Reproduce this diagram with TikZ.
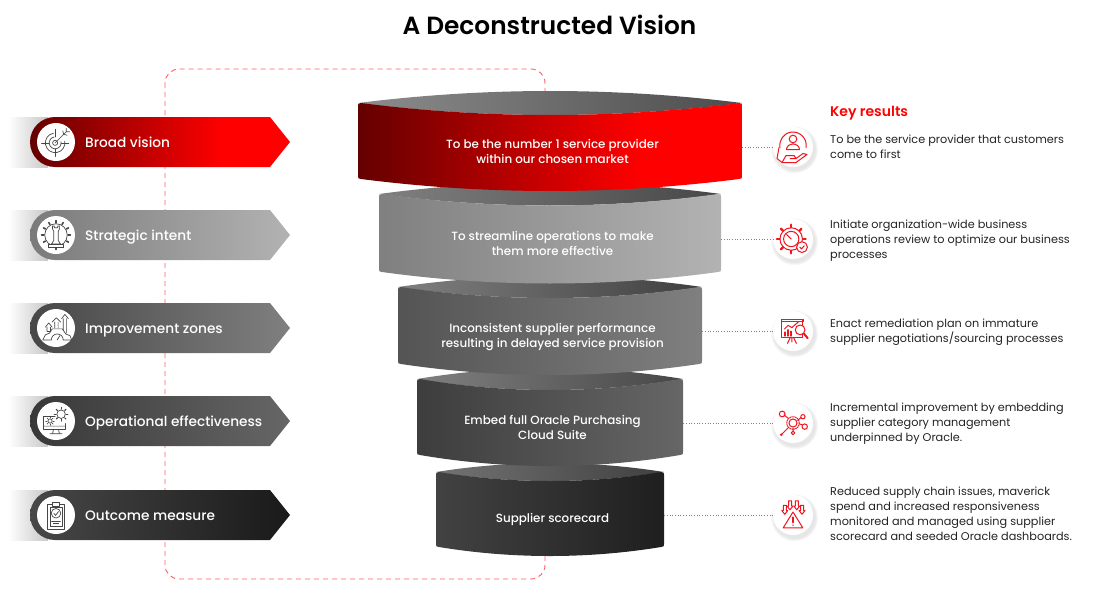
\documentclass[tikz,border=0pt]{standalone}
\usepackage{fontspec}
\usepackage{tikz}
\usetikzlibrary{shadows,fadings,calc}
\setmainfont{Poppins}
\newfontfamily\medfont{Poppins Medium}
\newfontfamily\semifont{Poppins SemiBold}
\definecolor{FrameRed}{RGB}{255,90,100}
\definecolor{DeepRed}{RGB}{100,0,0}
\definecolor{IconGrey}{RGB}{70,70,70}
\definecolor{IconRed}{RGB}{240,20,30}
\definecolor{BodyInk}{RGB}{35,35,35}
\pgfdeclarehorizontalshading{redsweep}{100bp}{color(0bp)=(DeepRed); color(25bp)=(DeepRed); color(62bp)=(red); color(100bp)=(red)}
\tikzset{
  lefticon/.style={draw=IconGrey,line width=0.7pt,line cap=round,line join=round},
  righticon/.style={draw=IconRed,line width=1pt,line cap=round,line join=round},
  bandtext/.style={text=white,align=center,inner sep=0pt,font=\medfont\fontsize{11.9}{15}\selectfont},
  pilltext/.style={text=white,anchor=base west,inner sep=0pt,font=\medfont\fontsize{13.7}{15}\selectfont},
  restext/.style={text=BodyInk,anchor=west,align=left,inner sep=0pt,font=\fontsize{11.25}{15}\selectfont},
  holecirc/.style={circle,fill=white,minimum size=38pt,inner sep=0pt},
  rescirc/.style={circle,fill=white,minimum size=40pt,inner sep=0pt,circular drop shadow={shadow xshift=1pt,shadow yshift=-2pt,shadow scale=1.2,opacity=0.2}},
  resline/.style={draw=gray,line width=0.7pt,dotted},
  tabA/.style={shading=redsweep},
  tabB/.style={left color=black!52,right color=black!30},
  tabC/.style={left color=black!72,right color=black!50},
  tabD/.style={left color=black!78,right color=black!60},
  tabE/.style={left color=black!72,right color=black!90},
  ringA/.style={yshift=1pt},
  ringB/.style={},
  ringC/.style={yshift=-2pt},
  ringD/.style={},
  ringE/.style={yshift=-2pt},
  pics/targetmark/.style={code={
    \draw[lefticon] (-1,2) circle (3) (-1,2) ++(-10:7) arc (-10:260:7) (-1,2) ++(-10:11.5) arc (-10:260:11.5);
    \draw[lefticon] (-1,2) -- (12,-11) (8,-12) -- (9,-8) -- (13,-7) (12,-11) -- (12,-15) (12,-11) -- (16,-11);
    \draw[lefticon] (-1,-14) -- (-1,-5) (-1,9) -- (-1,18) (-17,2) -- (-8,2) (6,2) -- (15,2);}},
  pics/rookmark/.style={code={
    \draw[lefticon] (0,0) circle (12.5);
    \foreach \ang in {0,30,...,330} {\draw[lefticon,line width=1.6pt] (\ang:13.5) -- (\ang:16);}
    \draw[lefticon,fill=white] (-4,-7) -- (-4,-10) -- (-2,-10) -- (-2,-8) -- (2,-8) -- (2,-10) -- (4,-10) -- (4,-7) -- (2.5,-4) -- (2.5,6) -- (5,10) -- (-5,10) -- (-2.5,6) -- (-2.5,-4) -- cycle;
    \draw[lefticon,fill=white] (-8,10) rectangle (8,14);}},
  pics/climbmark/.style={code={
    \draw[lefticon] (-14,-1) -- (-10,-6) -- (-6,-1) (-8,-1) -- (-8,4) -- (-12,4) -- (-12,-1);
    \draw[lefticon] (-6,-7) -- (-1,-12) -- (4,-7) (-3,-7) -- (-3,0) (1,-7) -- (1,0);
    \draw[lefticon] (5,-11) -- (9,-16) -- (13,-11) (7,-11) -- (7,3) (11,-11) -- (11,6);
    \draw[lefticon] (-17,14) -- (-14,8) -- (-9,6) -- (-6,1) -- (6,1) -- (10,7) -- (15,9) -- (17,14) -- (7,14);
    \draw[lefticon] (-7,14) arc (180:360:7) (-17,14) -- (-7,14);
    \draw[lefticon] (0,14) -- (3,9);}},
  pics/deskmark/.style={code={
    \draw[lefticon] (-1,-7) -- (-15,-7) -- (-15,9) -- (11,9) -- (11,2);
    \draw[lefticon] (-15,5) -- (11,5) (-3,9) -- (-4,14) (3,9) -- (4,14) (-7,14) -- (7,14);
    \draw[lefticon] (-7,-1) circle (2.5);
    \foreach \ang in {0,45,...,315} {\draw[lefticon] ($(-7,-1)+(\ang:3.5)$) -- ($(-7,-1)+(\ang:5)$);}
    \draw[lefticon] (6,-9) circle (5);
    \foreach \ang in {0,45,...,315} {\draw[lefticon,line width=1.2pt] ($(6,-9)+(\ang:6)$) -- ($(6,-9)+(\ang:8)$);}}},
  pics/boardmark/.style={code={
    \draw[lefticon] (-10,-12) rectangle (10,16) (-7,-9) rectangle (7,13);
    \draw[lefticon,fill=white] (-4,-15) -- (4,-15) -- (4,-10) -- (-4,-10) -- cycle;
    \draw[lefticon] (0,-2) circle (5.5) (-2.5,-2) -- (-0.5,0.5) -- (3,-4);
    \draw[lefticon] (-5,7) -- (5,7) (-3,10) -- (3,10);}},
  pics/carehand/.style={code={
    \draw[righticon] (-13,2) arc (170:370:13.2);
    \draw[righticon] (0,-6.5) circle (3.8) (-6.5,4) arc (180:360:6.5 and 5.5) -- cycle;
    \draw[righticon] (-14,2) -- (-16,13) -- (-11,17) -- (-7,10) -- (1,10) -- (3,13) -- (-3,13) (-11,17) -- (3,17) -- (14,9) -- (10,8) -- (3,13);}},
  pics/gaugegear/.style={code={
    \draw[righticon] (-2,0) circle (12.5) (-2,0) circle (8.5) (-2,0) -- (-7,-5);
    \foreach \ang in {0,45,...,315} {\draw[righticon,line width=2.4pt] ($(-2,0)+(\ang:13)$) -- ($(-2,0)+(\ang:16)$);}
    \draw[righticon,fill=white] (10,9) circle (6);
    \draw[righticon] (7.5,9) -- (9.5,11) -- (12.5,7.5);}},
  pics/chartboard/.style={code={
    \draw[righticon] (-18,-14) rectangle (10,10) (-18,-14) rectangle (12,-11);
    \draw[righticon] (-6,10) -- (-10,18) (-2,10) -- (2,18) (-4,10) -- (-4,16);
    \draw[righticon] (-14,-1) -- (-9,-6) -- (-4,-3) -- (5,-11);
    \draw[righticon,line width=1.5pt] (-13,8) -- (-13,3) (-9,8) -- (-9,0) (-5,8) -- (-5,2);
    \draw[righticon,fill=white] (7,0) circle (6.5);
    \draw[righticon,line width=2pt] (12,5) -- (17,11);}},
  pics/hubmark/.style={code={
    \draw[righticon,densely dotted] (0,0) circle (7);
    \draw[righticon] (0,0) circle (4.5);
    \draw[righticon] (-10,-9) -- (-5,-5) (9,-6) -- (5,-3) (10,2) -- (7,1) (-12,12) -- (-5,5) (0,6) -- (0,9);
    \draw[righticon] (-12,-10) circle (3.2) (11,-7) circle (2.4) (13,4) circle (3) (0,11) circle (2);
    \fill[IconRed] (-13,13) circle (1.6);}},
  pics/alertmark/.style={code={
    \draw[righticon] (0,-5) -- (13,16) -- (-13,16) -- cycle;
    \draw[righticon,line width=1.6pt] (0,2) -- (0,9);
    \fill[IconRed] (0,12.5) circle (1.1);
    \foreach \px/\py in {-11/-9,-4/-15,5/-15,12/-9} {
      \draw[righticon,shift={(\px,\py)}] (-2,-5) -- (2,-5) -- (2,2) -- (4,2) -- (0,7) -- (-4,2) -- (-2,2) -- cycle;}}}
}
% one funnel ring: name, left, right, top corners, bottom corners, lens colours, front shading, text
\newcommand{\funnelring}[9]{
  \pgfmathsetmacro\ringw{#3-#2}
  \pgfmathsetmacro\ringa{#2+\ringw/3}
  \pgfmathsetmacro\ringb{#3-\ringw/3}
  \pgfmathsetmacro\ringm{(#2+#3)/2+2.5}
  \pgfmathsetmacro\ringc{(#4+#5)/2+#6-1}
  \pgfmathsetmacro\ringh{#5-#4}
  \pgfmathsetmacro\ringn{\ringw-5}
  \shade[#7] (#2,#4) .. controls (\ringa,#4-1.333*#6) and (\ringb,#4-1.333*#6) .. (#3,#4)
     .. controls (\ringb,#4+1.333*#6) and (\ringa,#4+1.333*#6) .. (#2,#4) -- cycle;
  \shade[#8] (#2,#4+3) .. controls (#2,#4+0.5) .. (#2+3,#4)
     .. controls (\ringa,#4+1.333*#6) and (\ringb,#4+1.333*#6) .. (#3-3,#4)
     .. controls (#3,#4+0.5) .. (#3,#4+3) -- (#3,#5-3) .. controls (#3,#5-0.5) .. (#3-3,#5)
     .. controls (\ringb,#5+1.333*#6) and (\ringa,#5+1.333*#6) .. (#2+3,#5)
     .. controls (#2,#5-0.5) .. (#2,#5-3) -- cycle;
  \node[bandtext,#1,minimum width=\ringn pt,minimum height=\ringh pt] (#1) at (\ringm,\ringc) {#9};
}
\begin{document}
\begin{tikzpicture}[x=1pt,y=-1pt]
\useasboundingbox (0,0) rectangle (1100,600);
\node[inner sep=0pt,font=\semifont\fontsize{24.85}{28}\selectfont,text=black] (title) at (549.5,24.5) {A Deconstructed Vision};
\draw[FrameRed,line width=0.9pt,dash pattern=on 5pt off 4pt,rounded corners=14pt] (165,69) rectangle (545,579);
% left tabs
\foreach \nm/\yc/\txt in {%
A/142/Broad vision,%
B/235/Strategic intent,%
C/328/Improvement zones,%
D/421/Operational effectiveness,%
E/515/Outcome measure} {
  \shade[left color=white,right color=black!22] (8,\yc-25) rectangle (48,\yc+25);
  \shade[tab\nm] (55,\yc-25) arc (-90:-270:25) -- (270,\yc+25) -- (290,\yc) -- (270,\yc-25) -- cycle;
  \node[holecirc] (hole\nm) at (56,\yc) {};
  \node[pilltext] (tab\nm) at (85,\yc+5) {\txt};
}
\pic[scale=0.85,yshift=1pt] at (holeA) {targetmark};
\pic[scale=0.9] at (holeB) {rookmark};
\pic[scale=0.85,xshift=1.5pt] at (holeC) {climbmark};
\pic[scale=0.85,yshift=-1pt] at (holeD) {deskmark};
\pic[scale=0.87] at (holeE) {boardmark};
% funnel, lowest ring first
\funnelring{ringE}{436}{664}{472}{547}{9}{left color=black!55,right color=black!75}{left color=black!74,right color=black!88}{Supplier scorecard}
\funnelring{ringD}{417}{683}{379}{455}{11}{left color=black!50,right color=black!72}{left color=black!76,right color=black!60}{Embed full Oracle Purchasing\\Cloud Suite}
\funnelring{ringC}{398}{702}{287}{364}{11}{left color=black!50,right color=black!75}{left color=black!67,right color=black!50}{Inconsistent supplier performance\\resulting in delayed service provision}
\funnelring{ringB}{379}{721}{194}{272}{11.5}{left color=black!50,right color=black!72}{left color=black!50,right color=black!30}{To streamline operations to make\\them more effective}
\funnelring{ringA}{358}{742}{103}{179}{12}{left color=black!45,right color=black!70}{shading=redsweep}{To be the number 1 service provider\\within our chosen market}
% right column
\node[anchor=west,inner sep=0pt,text=red,font=\semifont\fontsize{14}{16}\selectfont] (keyres) at (830,113) {Key results};
\foreach \nm/\yc/\ty/\txt in {%
A/147/147/{To be the service provider that customers\\come to first},%
B/239/241/{Initiate organization-wide business\\operations review to optimize our business\\processes},%
C/331/332/{Enact remediation plan on immature\\supplier negotiations/sourcing processes},%
D/423/424/{Incremental improvement by embedding\\supplier category management\\underpinned by Oracle.},%
E/515/514/{Reduced supply chain issues, maverick\\spend and increased responsiveness\\monitored and managed using supplier\\scorecard and seeded Oracle dashboards.}} {
  \node[rescirc] (res\nm) at (793,\yc) {};
  \node[restext] (note\nm) at (830,\ty) {\txt};
  \draw[resline] (ring\nm.east |- res\nm.west) -- (res\nm.west);
}
\pic[yshift=1.5pt] at (resA) {carehand};
\pic[scale=0.9] at (resB) {gaugegear};
\pic[scale=0.75,xshift=2.5pt,yshift=1.5pt] at (resC) {chartboard};
\pic[scale=0.9] at (resD) {hubmark};
\pic[scale=0.75,yshift=-1pt] at (resE) {alertmark};
\end{tikzpicture}
\end{document}
